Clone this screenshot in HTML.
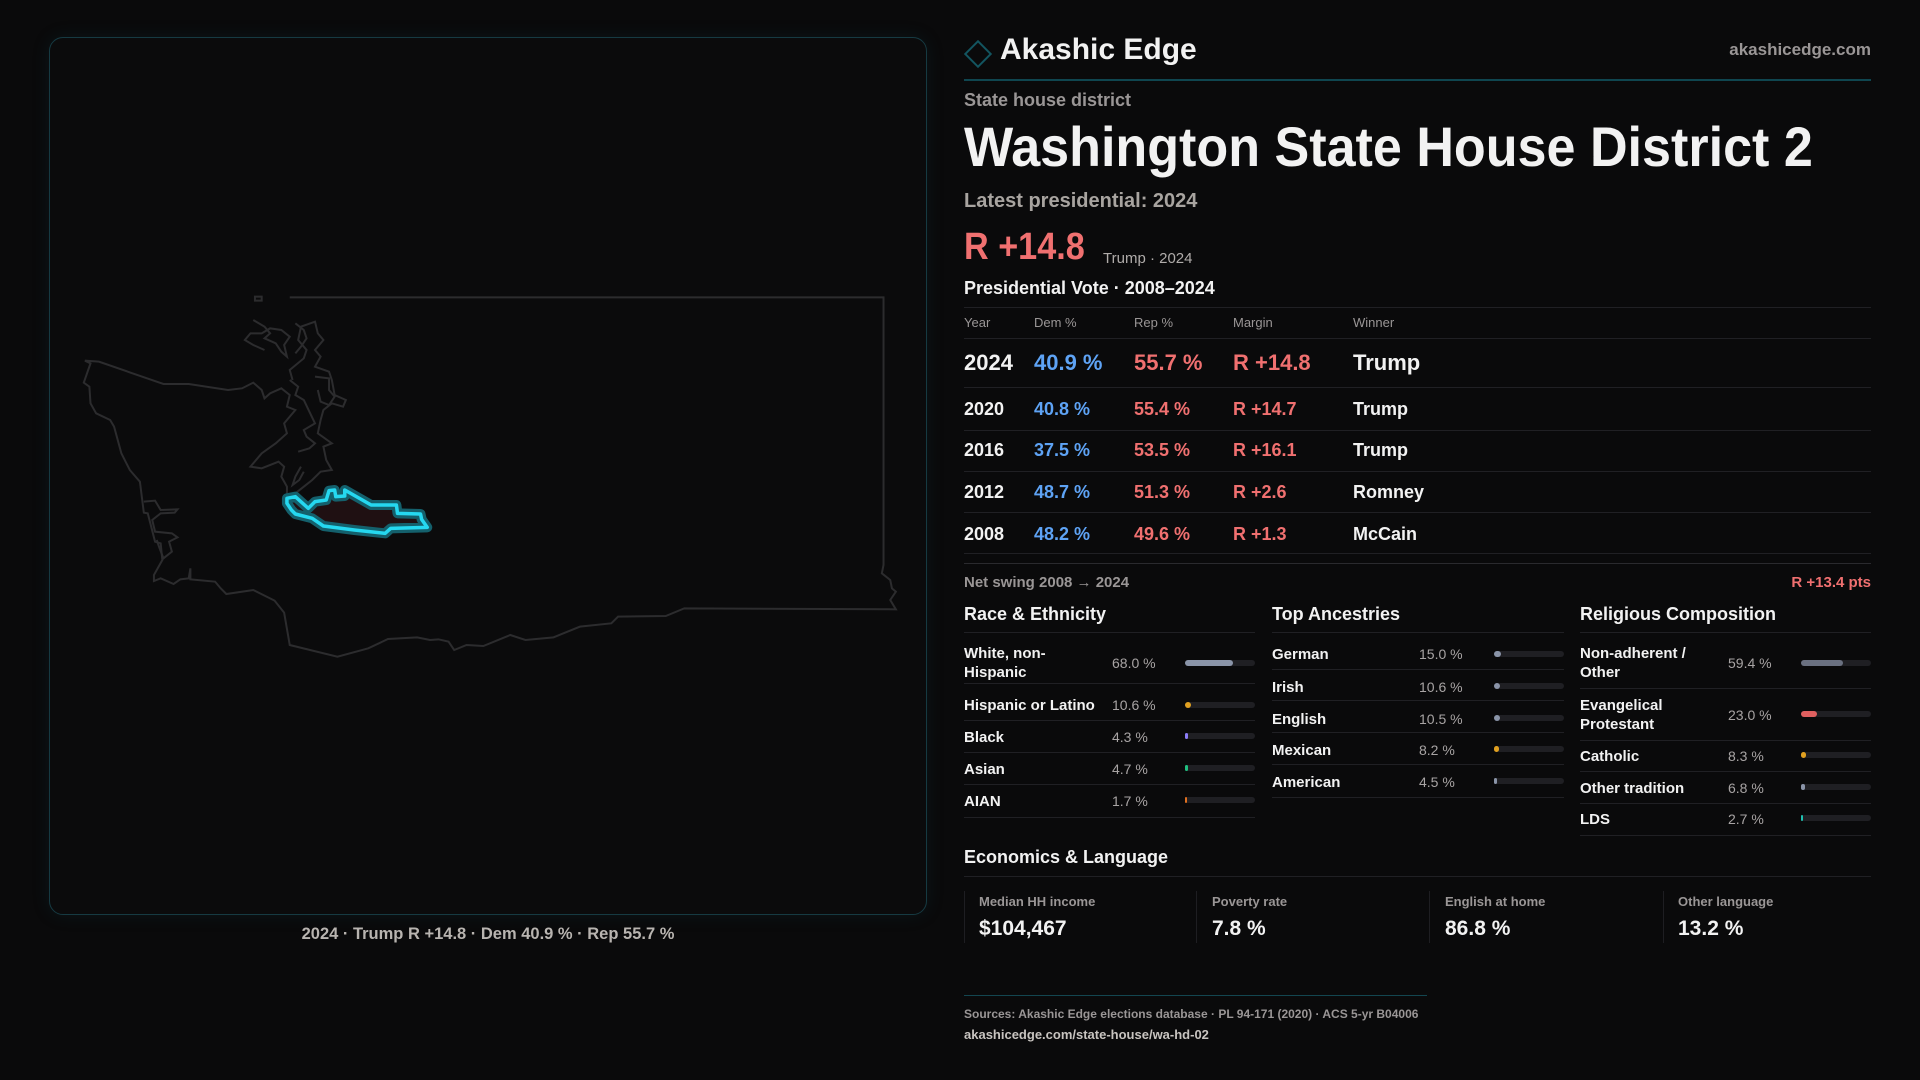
<!DOCTYPE html>
<html><head><meta charset="utf-8"><style>
*{margin:0;padding:0;box-sizing:border-box}
body{width:1920px;height:1080px;background:#0a0a0b;font-family:"Liberation Sans",sans-serif;color:#f2f2f2;position:relative;overflow:hidden}
.a{position:absolute;white-space:nowrap}
.g{color:#9a9696}
.r{color:#f07070}
.b{color:#5ea3f5}
.ln{position:absolute;height:1px;background:#202024}
.bar{position:absolute;height:6px;border-radius:3px;background:#1f1f23}
.bar i{position:absolute;left:0;top:0;height:6px;border-radius:3px}
.lbl{font-size:15px;font-weight:bold;line-height:19px}
.val{font-size:14px;color:#a8a4a4}
</style></head><body>
<div class="a" style="left:49px;top:37px;width:878px;height:878px;border:1px solid #163a42;border-radius:14px;background:#0b0b0c;box-shadow:0 0 18px rgba(20,90,100,0.15)"></div>
<svg class="a" style="left:40px;top:280px" width="880" height="400" viewBox="0 0 1568 1200" preserveAspectRatio="none">
<g fill="none" stroke="#2c2c2e" stroke-width="2" vector-effect="non-scaling-stroke">
<polyline vector-effect="non-scaling-stroke" points="445,52 1503,52 1503,855 1500,880 1515,900 1518,925 1525,935 1515,960 1525,988 1148,985 1115,1008 1030,1010 1018,1030 962,1040 915,1072 865,1080 838,1065 790,1098 760,1095 738,1110 728,1085 710,1078 695,1080 672,1072 620,1077 585,1105 530,1130 445,1095 435,998 418,962 380,930 332,942 322,925 312,905 268,898 268,865 265,895 250,898 238,912 215,895 203,903 203,885 218,840 215,790 205,785 192,700 185,698 178,605 160,570 145,520 132,440 125,420 100,400 90,370 88,320 78,308 90,250 80,242 105,245 220,312 265,312 335,330 360,325 380,308 395,330 400,355 410,340 430,325 445,345 440,380 455,390 445,410 435,430 440,460 420,490 395,520 375,560 395,565 425,545 435,560 430,590 440,620 440,640"/>
<polyline vector-effect="non-scaling-stroke" points="450,300 445,270 470,235 475,210 460,180 465,140 490,125 495,160 505,180 490,210 500,230 490,260 515,275 520,300 525,345 545,360 540,380 520,370 505,390 500,420 495,460 520,490 505,500 510,540 520,570 500,575 485,600 470,620 455,640"/>
<polyline vector-effect="non-scaling-stroke" points="445,300 460,320 455,345 470,360 480,395 490,430 470,450 475,470 490,490 480,505 460,515"/>
<polyline vector-effect="non-scaling-stroke" points="380,120 400,140 410,160 400,175 420,190 430,215 440,230 435,195 445,170 430,150 410,145 395,160 375,160 365,180 380,195 400,210"/>
<polyline vector-effect="non-scaling-stroke" points="455,130 470,150 475,175 465,200 455,220"/>
<polyline vector-effect="non-scaling-stroke" points="490,290 515,295 515,330 525,350 515,375 500,365 495,330"/>
<polyline vector-effect="non-scaling-stroke" points="185,665 205,662 215,690 245,688 240,698 215,700 200,720 205,755 235,760 245,772 230,785 235,815 220,835 212,800 208,780"/>
<polyline vector-effect="non-scaling-stroke" points="465,560 455,590 450,615 462,600 470,575"/>
<rect x="383" y="50" width="12" height="12" vector-effect="non-scaling-stroke"/>
</g>
<polygon points="440,655 455,650 478,685 490,665 510,660 515,632 525,630 527,650 543,648 543,630 590,675 635,675 637,700 678,702 680,718 690,742 625,745 615,760 560,750 505,738 485,715 455,702 448,690 440,670" fill="#1f1012" stroke="#14606c" stroke-width="10" vector-effect="non-scaling-stroke" stroke-linejoin="round"/>
<polygon points="440,655 455,650 478,685 490,665 510,660 515,632 525,630 527,650 543,648 543,630 590,675 635,675 637,700 678,702 680,718 690,742 625,745 615,760 560,750 505,738 485,715 455,702 448,690 440,670" fill="none" stroke="#25d8f0" stroke-width="3.5" vector-effect="non-scaling-stroke" stroke-linejoin="round"/>
</svg>
<div class="a" style="left:0;width:976px;top:925px;text-align:center;font-size:16.5px;font-weight:bold;color:#b8b4b0">2024 · Trump R +14.8 · Dem 40.9 % · Rep 55.7 %</div>

<div class="a" style="left:968px;top:44px;width:20px;height:20px;border:2px solid #135560;transform:rotate(45deg)"></div>
<div class="a" style="left:1000px;top:32px;font-size:30px;font-weight:bold;line-height:36px">Akashic Edge</div>
<div class="a g" style="right:49px;top:40px;font-size:17px;font-weight:bold">akashicedge.com</div>
<div class="a" style="left:964px;top:79px;width:907px;height:2px;background:#0f4650"></div>
<div class="a g" style="left:964px;top:90px;font-size:18px;font-weight:bold">State house district</div>
<div class="a" style="left:964px;top:114px;font-size:56px;font-weight:bold;line-height:66px;transform:scaleX(0.93);transform-origin:left">Washington State House District 2</div>
<div class="a" style="left:964px;top:190px;font-size:20px;font-weight:bold;color:#a8a4a0">Latest presidential: 2024</div>
<div class="a r" style="left:964px;top:224px;font-size:38px;font-weight:bold;line-height:46px;transform:scaleX(0.9);transform-origin:left">R +14.8</div>
<div class="a" style="left:1103px;top:250px;font-size:15px;color:#b0acaa">Trump · 2024</div>
<div class="a" style="left:964px;top:278px;font-size:18px;font-weight:bold">Presidential Vote · 2008–2024</div>
<div class="ln" style="left:964px;width:907px;top:307px"></div>
<div class="a g" style="top:315px;left:964px;font-size:13px">Year</div>
<div class="a g" style="top:315px;left:1034px;font-size:13px">Dem %</div>
<div class="a g" style="top:315px;left:1134px;font-size:13px">Rep %</div>
<div class="a g" style="top:315px;left:1233px;font-size:13px">Margin</div>
<div class="a g" style="top:315px;left:1353px;font-size:13px">Winner</div>
<div class="ln" style="left:964px;width:907px;top:338px"></div>
<div style="font-size:22px;font-weight:bold">
<div class="a" style="top:350px;left:964px">2024</div><div class="a b" style="top:350px;left:1034px">40.9 %</div><div class="a r" style="top:350px;left:1134px">55.7 %</div><div class="a r" style="top:350px;left:1233px">R +14.8</div><div class="a" style="top:350px;left:1353px">Trump</div>
</div>
<div class="ln" style="left:964px;width:907px;top:387px"></div>
<div style="font-size:18px;font-weight:bold">
<div class="a" style="top:399px;left:964px">2020</div><div class="a b" style="top:399px;left:1034px">40.8 %</div><div class="a r" style="top:399px;left:1134px">55.4 %</div><div class="a r" style="top:399px;left:1233px">R +14.7</div><div class="a" style="top:399px;left:1353px">Trump</div>
<div class="a" style="top:440px;left:964px">2016</div><div class="a b" style="top:440px;left:1034px">37.5 %</div><div class="a r" style="top:440px;left:1134px">53.5 %</div><div class="a r" style="top:440px;left:1233px">R +16.1</div><div class="a" style="top:440px;left:1353px">Trump</div>
<div class="a" style="top:482px;left:964px">2012</div><div class="a b" style="top:482px;left:1034px">48.7 %</div><div class="a r" style="top:482px;left:1134px">51.3 %</div><div class="a r" style="top:482px;left:1233px">R +2.6</div><div class="a" style="top:482px;left:1353px">Romney</div>
<div class="a" style="top:524px;left:964px">2008</div><div class="a b" style="top:524px;left:1034px">48.2 %</div><div class="a r" style="top:524px;left:1134px">49.6 %</div><div class="a r" style="top:524px;left:1233px">R +1.3</div><div class="a" style="top:524px;left:1353px">McCain</div>
</div>
<div class="ln" style="left:964px;width:907px;top:430px"></div>
<div class="ln" style="left:964px;width:907px;top:471px"></div>
<div class="ln" style="left:964px;width:907px;top:512px"></div>
<div class="ln" style="left:964px;width:907px;top:553px"></div>
<div class="ln" style="left:964px;width:907px;top:563px;background:#2a2a2e"></div>
<div class="a g" style="left:964px;top:574px;font-size:15px;font-weight:bold">Net swing 2008 → 2024</div>
<div class="a r" style="right:49px;top:574px;font-size:15px;font-weight:bold">R +13.4 pts</div>

<div class="a" style="left:964px;top:604px;font-size:18px;font-weight:bold">Race &amp; Ethnicity</div>
<div class="a" style="left:1272px;top:604px;font-size:18px;font-weight:bold">Top Ancestries</div>
<div class="a" style="left:1580px;top:604px;font-size:18px;font-weight:bold">Religious Composition</div>
<div class="ln" style="left:964px;width:291px;top:632px"></div>
<div class="ln" style="left:1272px;width:292px;top:632px"></div>
<div class="ln" style="left:1580px;width:291px;top:632px"></div>

<div class="a lbl" style="left:964px;top:644px">White, non-<br>Hispanic</div><div class="a val" style="left:1112px;top:655px">68.0 %</div><div class="bar" style="left:1185px;width:70px;top:660px"><i style="width:48px;background:#8a94a8"></i></div>
<div class="ln" style="left:964px;width:291px;top:683px"></div>
<div class="a lbl" style="left:964px;top:696px">Hispanic or Latino</div><div class="a val" style="left:1112px;top:697px">10.6 %</div><div class="bar" style="left:1185px;width:70px;top:702px"><i style="width:6px;background:#e0a020"></i></div>
<div class="ln" style="left:964px;width:291px;top:720px"></div>
<div class="a lbl" style="left:964px;top:728px">Black</div><div class="a val" style="left:1112px;top:729px">4.3 %</div><div class="bar" style="left:1185px;width:70px;top:733px"><i style="width:3px;background:#8b7cf6"></i></div>
<div class="ln" style="left:964px;width:291px;top:752px"></div>
<div class="a lbl" style="left:964px;top:760px">Asian</div><div class="a val" style="left:1112px;top:761px">4.7 %</div><div class="bar" style="left:1185px;width:70px;top:765px"><i style="width:3px;background:#20c080"></i></div>
<div class="ln" style="left:964px;width:291px;top:784px"></div>
<div class="a lbl" style="left:964px;top:792px">AIAN</div><div class="a val" style="left:1112px;top:793px">1.7 %</div><div class="bar" style="left:1185px;width:70px;top:797px"><i style="width:2px;background:#e07020"></i></div>
<div class="ln" style="left:964px;width:291px;top:817px"></div>

<div class="a lbl" style="left:1272px;top:645px">German</div><div class="a val" style="left:1419px;top:646px">15.0 %</div><div class="bar" style="left:1494px;width:70px;top:651px"><i style="width:7px;background:#8a94a8"></i></div>
<div class="ln" style="left:1272px;width:292px;top:669px"></div>
<div class="a lbl" style="left:1272px;top:678px">Irish</div><div class="a val" style="left:1419px;top:679px">10.6 %</div><div class="bar" style="left:1494px;width:70px;top:683px"><i style="width:6px;background:#8a94a8"></i></div>
<div class="ln" style="left:1272px;width:292px;top:700px"></div>
<div class="a lbl" style="left:1272px;top:710px">English</div><div class="a val" style="left:1419px;top:711px">10.5 %</div><div class="bar" style="left:1494px;width:70px;top:715px"><i style="width:6px;background:#8a94a8"></i></div>
<div class="ln" style="left:1272px;width:292px;top:732px"></div>
<div class="a lbl" style="left:1272px;top:741px">Mexican</div><div class="a val" style="left:1419px;top:742px">8.2 %</div><div class="bar" style="left:1494px;width:70px;top:746px"><i style="width:5px;background:#e0a020"></i></div>
<div class="ln" style="left:1272px;width:292px;top:764px"></div>
<div class="a lbl" style="left:1272px;top:773px">American</div><div class="a val" style="left:1419px;top:774px">4.5 %</div><div class="bar" style="left:1494px;width:70px;top:778px"><i style="width:3px;background:#8a94a8"></i></div>
<div class="ln" style="left:1272px;width:292px;top:797px"></div>

<div class="a lbl" style="left:1580px;top:644px">Non-adherent /<br>Other</div><div class="a val" style="left:1728px;top:655px">59.4 %</div><div class="bar" style="left:1801px;width:70px;top:660px"><i style="width:42px;background:#6a7080"></i></div>
<div class="ln" style="left:1580px;width:291px;top:688px"></div>
<div class="a lbl" style="left:1580px;top:696px">Evangelical<br>Protestant</div><div class="a val" style="left:1728px;top:707px">23.0 %</div><div class="bar" style="left:1801px;width:70px;top:711px"><i style="width:16px;background:#e06060"></i></div>
<div class="ln" style="left:1580px;width:291px;top:740px"></div>
<div class="a lbl" style="left:1580px;top:747px">Catholic</div><div class="a val" style="left:1728px;top:748px">8.3 %</div><div class="bar" style="left:1801px;width:70px;top:752px"><i style="width:5px;background:#e0a020"></i></div>
<div class="ln" style="left:1580px;width:291px;top:771px"></div>
<div class="a lbl" style="left:1580px;top:779px">Other tradition</div><div class="a val" style="left:1728px;top:780px">6.8 %</div><div class="bar" style="left:1801px;width:70px;top:784px"><i style="width:4px;background:#8a94a8"></i></div>
<div class="ln" style="left:1580px;width:291px;top:803px"></div>
<div class="a lbl" style="left:1580px;top:810px">LDS</div><div class="a val" style="left:1728px;top:811px">2.7 %</div><div class="bar" style="left:1801px;width:70px;top:815px"><i style="width:2px;background:#20c0b0"></i></div>
<div class="ln" style="left:1580px;width:291px;top:835px"></div>

<div class="a" style="left:964px;top:847px;font-size:18px;font-weight:bold">Economics &amp; Language</div>
<div class="ln" style="left:964px;width:907px;top:876px"></div>
<div class="a" style="left:964px;top:891px;width:1px;height:52px;background:#1e1e22"></div>
<div class="a" style="left:1196px;top:891px;width:1px;height:52px;background:#1e1e22"></div>
<div class="a" style="left:1429px;top:891px;width:1px;height:52px;background:#1e1e22"></div>
<div class="a" style="left:1663px;top:891px;width:1px;height:52px;background:#1e1e22"></div>
<div class="a g" style="left:979px;top:894px;font-size:13px;font-weight:bold">Median HH income</div>
<div class="a g" style="left:1212px;top:894px;font-size:13px;font-weight:bold">Poverty rate</div>
<div class="a g" style="left:1445px;top:894px;font-size:13px;font-weight:bold">English at home</div>
<div class="a g" style="left:1678px;top:894px;font-size:13px;font-weight:bold">Other language</div>
<div class="a" style="left:979px;top:917px;font-size:21px;font-weight:bold">$104,467</div>
<div class="a" style="left:1212px;top:917px;font-size:21px;font-weight:bold">7.8 %</div>
<div class="a" style="left:1445px;top:917px;font-size:21px;font-weight:bold">86.8 %</div>
<div class="a" style="left:1678px;top:917px;font-size:21px;font-weight:bold">13.2 %</div>

<div class="a" style="left:964px;top:995px;width:463px;height:1px;background:#134650"></div>
<div class="a g" style="left:964px;top:1007px;font-size:12px;font-weight:bold">Sources: Akashic Edge elections database · PL 94-171 (2020) · ACS 5-yr B04006</div>
<div class="a" style="left:964px;top:1027px;font-size:13px;font-weight:bold;color:#c8c4c0">akashicedge.com/state-house/wa-hd-02</div>
</body></html>
